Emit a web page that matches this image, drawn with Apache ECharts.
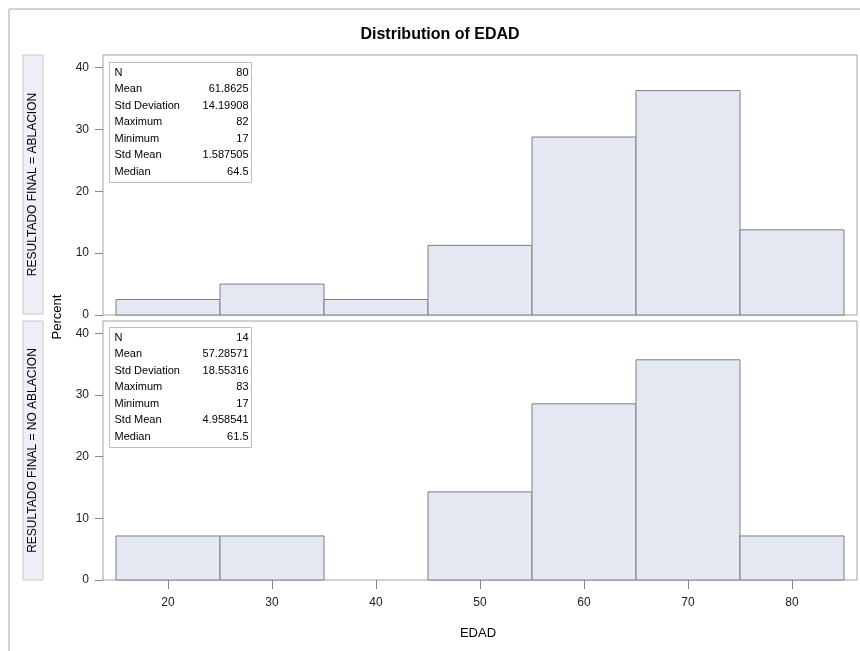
<!DOCTYPE html>
<html>
<head>
<meta charset="utf-8">
<script src="https://cdn.jsdelivr.net/npm/echarts@6/dist/echarts.min.js"></script>
<style>
html,body{margin:0;padding:0;background:#fff;}
#main{width:860px;height:651px;}
</style>
</head>
<body>
<div id="main"></div>
<script>
// ---- data ----
var binStarts = [15, 25, 35, 45, 55, 65, 75];
var binEnds   = [25, 35, 45, 55, 65, 75, 85];
var ablacionPercent   = [2.5, 5, 2.5, 11.25, 28.75, 36.25, 13.75];
var noAblacionPercent = [7.14, 7.14, 0, 14.29, 28.57, 35.71, 7.14];
var xTicks = [20, 30, 40, 50, 60, 70, 80];
var yTicks = [0, 10, 20, 30, 40];
var statLabels = ['N', 'Mean', 'Std Deviation', 'Maximum', 'Minimum', 'Std Mean', 'Median'];
var ablacionStats   = ['80', '61.8625', '14.19908', '82', '17', '1.587505', '64.5'];
var noAblacionStats = ['14', '57.28571', '18.55316', '83', '17', '4.958541', '61.5'];
var panelLabels = ['RESULTADO FINAL = ABLACION', 'RESULTADO FINAL = NO ABLACION'];

var FONT = '"Liberation Sans", Arial, sans-serif';

function binData(vals) {
  return vals.map(function (v, i) { return [binStarts[i], binEnds[i], v]; });
}

function renderBar(params, api) {
  var y = api.value(2);
  if (y <= 0) return null;
  var p0 = api.coord([api.value(0), y]);
  var p1 = api.coord([api.value(1), 0]);
  return {
    type: 'rect',
    shape: { x: p0[0], y: p0[1], width: p1[0] - p0[0], height: p1[1] - p0[1] },
    style: { fill: '#e4e8f2', stroke: '#7e7e7e', lineWidth: 1 }
  };
}

var grids = [
  { left: 103, top: 55, width: 754, height: 260 },
  { left: 103, top: 321, width: 754, height: 259 }
];

function statsBox(gx, gy, values) {
  var children = [{
    type: 'rect', shape: { x: 0, y: 0, width: 142, height: 120 },
    style: { fill: '#fff', stroke: '#bdbdbd', lineWidth: 1 }
  }];
  statLabels.forEach(function (lab, i) {
    children.push({ type: 'text', x: 5, y: 10 + i * 16.5,
      style: { text: lab, font: '11px ' + FONT, fill: '#000', align: 'left', verticalAlign: 'middle' } });
    children.push({ type: 'text', x: 139, y: 10 + i * 16.5,
      style: { text: values[i], font: '11px ' + FONT, fill: '#000', align: 'right', verticalAlign: 'middle' } });
  });
  return { type: 'group', x: gx, y: gy, children: children };
}

function strip(y0, y1, label) {
  return { type: 'group', children: [
    { type: 'rect', shape: { x: 23, y: y0, width: 20, height: y1 - y0 },
      style: { fill: '#eef0f8', stroke: '#c8c8c8', lineWidth: 1 } },
    { type: 'text', x: 33, y: (y0 + y1) / 2, rotation: Math.PI / 2,
      style: { text: label, font: '12px ' + FONT, fill: '#000', align: 'center', verticalAlign: 'middle' } }
  ]};
}

function xAxis(idx, showLabels) {
  return {
    type: 'value', gridIndex: idx, min: 13.75, max: 86.25,
    axisLine: { show: false },
    splitLine: { show: false },
    axisTick: { show: showLabels, length: 9, lineStyle: { color: '#888' }, customValues: xTicks },
    axisLabel: { show: showLabels, margin: 17, color: '#222', fontSize: 12, fontFamily: FONT, customValues: xTicks }
  };
}
function yAxis(idx) {
  return {
    type: 'value', gridIndex: idx, min: 0, max: 42, interval: 10,
    axisLine: { show: false },
    splitLine: { show: false },
    axisTick: { show: true, length: 8, lineStyle: { color: '#888' }, customValues: yTicks },
    axisLabel: { margin: 14, color: '#222', fontSize: 12, fontFamily: FONT, customValues: yTicks }
  };
}

var chart = echarts.init(document.getElementById('main'), null, { renderer: 'canvas' });
chart.setOption({
  backgroundColor: '#fff',
  animation: false,
  grid: grids.map(function (g) {
    return Object.assign({ show: true, borderColor: '#a3a3a3', borderWidth: 1, backgroundColor: 'transparent' }, g);
  }),
  xAxis: [xAxis(0, false), xAxis(1, true)],
  yAxis: [yAxis(0), yAxis(1)],
  series: [
    { type: 'custom', xAxisIndex: 0, yAxisIndex: 0, renderItem: renderBar, data: binData(ablacionPercent), encode: { x: [0, 1], y: 2 } },
    { type: 'custom', xAxisIndex: 1, yAxisIndex: 1, renderItem: renderBar, data: binData(noAblacionPercent), encode: { x: [0, 1], y: 2 } }
  ],
  graphic: [
    { type: 'line', shape: { x1: 9, y1: 9, x2: 860, y2: 9 }, style: { stroke: '#d2d2d2', lineWidth: 2 } },
    { type: 'line', shape: { x1: 9, y1: 9, x2: 9, y2: 651 }, style: { stroke: '#d2d2d2', lineWidth: 2 } },
    { type: 'text', x: 440, y: 35,
      style: { text: 'Distribution of EDAD', font: 'bold 16px ' + FONT, fill: '#000', align: 'center', verticalAlign: 'middle' } },
    strip(55, 314, panelLabels[0]),
    strip(321, 580, panelLabels[1]),
    { type: 'text', x: 57, y: 317, rotation: Math.PI / 2,
      style: { text: 'Percent', font: '13px ' + FONT, fill: '#000', align: 'center', verticalAlign: 'middle' } },
    { type: 'text', x: 478, y: 633,
      style: { text: 'EDAD', font: '13px ' + FONT, fill: '#000', align: 'center', verticalAlign: 'middle' } },
    statsBox(109.5, 62.5, ablacionStats),
    statsBox(109.5, 327.5, noAblacionStats)
  ]
});
</script>
</body>
</html>
